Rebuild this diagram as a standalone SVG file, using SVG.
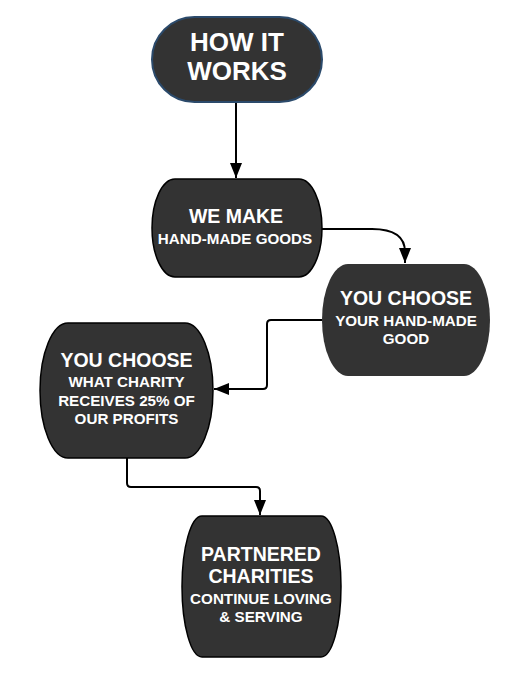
<svg xmlns="http://www.w3.org/2000/svg" width="531" height="682" viewBox="0 0 531 682">
<style>
.node{fill:#333333;stroke:#000000;stroke-width:1.5}
.t{font-family:"Liberation Sans",Arial,sans-serif;font-weight:bold;fill:#ffffff;text-anchor:middle}
.big{font-size:19.5px}
.sm{font-size:15.2px}
.conn{fill:none;stroke:#000000;stroke-width:2}
</style>
<defs>
<marker id="arr" markerUnits="userSpaceOnUse" markerWidth="15" markerHeight="13" refX="15" refY="6" orient="auto">
<path d="M0,0 L15,6 L0,12 Z" fill="#000000"/>
</marker>
</defs>
<rect width="531" height="682" fill="#ffffff"/>
<g id="connectors">
<path class="conn" d="M236,102 V178" marker-end="url(#arr)"/>
<path class="conn" d="M322,229 H372 Q405,229 405,252 V263" marker-end="url(#arr)"/>
<path class="conn" d="M322,320 H271 Q267,320 267,324 V385 Q267,389 263,389 H214" marker-end="url(#arr)"/>
<path class="conn" d="M127,457 V483 Q127,487 131,487 H256 Q260,487 260,491 V515" marker-end="url(#arr)"/>
</g>
<g id="n1">
<rect x="152" y="17" width="170" height="85" rx="42.5" ry="42.5" fill="#333333" stroke="#2b4a6b" stroke-width="2"/>
<text class="t" x="237" y="51" font-size="26">HOW IT</text>
<text class="t" x="237" y="80" font-size="26">WORKS</text>
</g>
<g id="n2">
<path class="node" d="M175,179 H299 A23,49 0 0 1 299,277 H175 A23,49 0 0 1 175,179 Z"/>
<text class="t big" x="236" y="223">WE MAKE</text>
<text class="t sm" x="235" y="244">HAND-MADE GOODS</text>
</g>
<g id="n3">
<path d="M348,264 H464 A26,56 0 0 1 464,376 H348 A26,56 0 0 1 348,264 Z" fill="#333333"/>
<text class="t big" x="406" y="305">YOU CHOOSE</text>
<text class="t sm" x="406" y="326">YOUR HAND-MADE</text>
<text class="t sm" x="406" y="344">GOOD</text>
</g>
<g id="n4">
<path class="node" d="M68,323 H185 A28,67.5 0 0 1 185,458 H68 A28,67.5 0 0 1 68,323 Z"/>
<text class="t big" x="126.5" y="367">YOU CHOOSE</text>
<text class="t sm" x="126.5" y="387">WHAT CHARITY</text>
<text class="t sm" x="126.5" y="406">RECEIVES 25% OF</text>
<text class="t sm" x="126.5" y="424">OUR PROFITS</text>
</g>
<g id="n5">
<path class="node" d="M202,516 H321 A20,70.5 0 0 1 321,657 H202 A20,70.5 0 0 1 202,516 Z"/>
<text class="t big" x="261" y="561">PARTNERED</text>
<text class="t big" x="261" y="583">CHARITIES</text>
<text class="t sm" x="261" y="604">CONTINUE LOVING</text>
<text class="t sm" x="261" y="622">&amp; SERVING</text>
</g>
</svg>
